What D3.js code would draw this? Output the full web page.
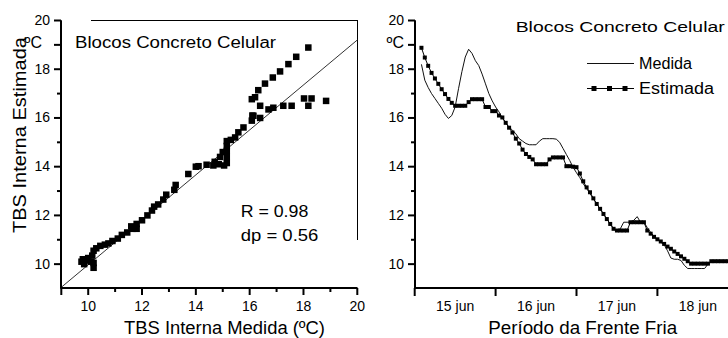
<!DOCTYPE html>
<html>
<head>
<meta charset="utf-8">
<script src="https://cdn.jsdelivr.net/npm/d3@7/dist/d3.min.js"></script>
<style>
body { margin: 0; background: #fff; }
svg { display: block; }
text { font-family: Arial, "Liberation Sans", sans-serif; fill: #000; }
</style>
</head>
<body>
<svg id="chart" width="728" height="338"></svg>
<script>
"use strict";

// grafico de dispersao: TBS interna medida (x) e estimada (y)
const scatterMedida = [9.75, 9.8, 9.85, 9.95, 10.0, 10.1, 10.15, 10.2, 10.2, 10.2, 10.3, 10.45, 10.62, 10.75, 10.9,
    11.1, 11.25, 11.45, 11.6, 11.65, 11.8, 11.8, 12.0, 12.2, 12.37, 12.45, 12.6, 12.79, 12.9, 13.2, 13.25, 13.72,
    14.0, 14.1, 14.4, 14.65, 14.85, 15.05, 15.15, 14.7, 14.9, 15.0, 15.15, 15.15, 15.15, 15.15, 15.3, 15.46, 15.58,
    15.77, 16.08, 16.14, 16.1, 16.39, 16.08, 16.2, 16.32, 16.57, 16.86, 17.13, 17.44, 17.73, 18.18,
    16.39, 16.7, 16.88, 17.25, 17.56, 18.02, 18.3, 18.18, 18.84];
const scatterEstimada = [10.1, 10.2, 10.0, 10.15, 10.25, 10.1, 10.35, 9.85, 10.05, 10.55, 10.65, 10.75, 10.8, 10.85, 10.95,
    11.05, 11.2, 11.3, 11.55, 11.45, 11.65, 11.45, 11.8, 12.0, 12.2, 12.36, 12.45, 12.65, 12.85, 13.05, 13.25, 13.7,
    14.0, 14.02, 14.08, 14.05, 14.1, 14.05, 14.15, 14.2, 14.4, 14.6, 14.4, 14.65, 14.85, 15.05, 15.1, 15.2, 15.41,
    15.61, 15.89, 16.09, 16.1, 16.0, 16.77, 16.85, 17.14, 17.41, 17.66, 17.91, 18.21, 18.51, 18.89,
    16.5, 16.35, 16.42, 16.5, 16.5, 16.8, 16.8, 16.5, 16.7];
const fitLine = [[9, 9.05], [20, 19.2]];
const statLabels = ["R = 0.98", "dp = 0.56"];

// serie horaria; hora 0 = 15 jun 00h
const startHour = 2;
const medida = [18.2, 17.55, 17.25, 17.0, 16.8, 16.6, 16.4, 16.15, 15.98, 16.1, 16.45, 17.2, 17.9, 18.5, 18.82,
    18.65, 18.35, 18.15, 17.8, 17.4, 17.0, 16.7, 16.45, 16.25, 16.0, 15.8, 15.62, 15.5, 15.35, 15.15, 15.05, 14.95,
    14.9, 14.9, 14.9, 15.05, 15.15, 15.15, 15.15, 15.15, 15.13, 15.0, 14.75, 14.5, 14.25, 13.97, 13.75, 13.55, 13.3,
    13.1, 12.9, 12.68, 12.47, 12.27, 12.06, 11.85, 11.65, 11.45, 11.4, 11.45, 11.72, 11.72, 11.72, 11.8, 11.95,
    11.72, 11.72, 11.5, 11.3, 11.15, 11.02, 10.9, 10.8, 10.55, 10.25, 10.2, 10.2, 10.15, 9.95, 9.82, 9.82, 9.82,
    9.82, 9.82, 9.82, 10.0, 10.1, 10.1, 10.1, 10.1, 10.1, 10.1];
const estimada = [18.88, 18.48, 18.14, 17.85, 17.62, 17.4, 17.18, 16.98, 16.78, 16.62, 16.5, 16.5, 16.5, 16.5,
    16.65, 16.77, 16.77, 16.77, 16.77, 16.45, 16.45, 16.28, 16.28, 16.1, 16.02, 15.8, 15.6, 15.4, 15.15, 14.95,
    14.7, 14.52, 14.4, 14.3, 14.1, 14.1, 14.1, 14.1, 14.3, 14.38, 14.38, 14.38, 14.38, 14.02, 14.02, 14.0, 13.98,
    13.72, 13.4, 13.15, 12.95, 12.7, 12.47, 12.27, 12.06, 11.85, 11.65, 11.45, 11.38, 11.38, 11.38, 11.38, 11.72,
    11.72, 11.72, 11.72, 11.72, 11.38, 11.25, 11.12, 11.02, 10.93, 10.83, 10.72, 10.63, 10.52, 10.42, 10.32, 10.22,
    10.12, 10.02, 10.02, 10.02, 10.02, 10.02, 10.02, 10.12, 10.12, 10.12, 10.12, 10.12, 10.12];
const dayLabels = ["15 jun", "16 jun", "17 jun", "18 jun"];

const yMajor = [10, 12, 14, 16, 18, 19, 20];
const yMinor = [11, 13, 15, 17];
const xMajor = [9, 10, 12, 14, 16, 18, 20];
const xMinor = [11, 13, 15, 17, 19];

const svg = d3.select("#chart");

function styleAxis(g, fontSize) {
    g.selectAll("path, line").attr("stroke", "#000").attr("stroke-width", 2);
    g.selectAll("text")
        .attr("fill", "#333")
        .style("font-family", "Arial, 'Liberation Sans', sans-serif")
        .style("font-size", fontSize + "px");
}

function drawYAxis(x, scaleY, celsiusShift) {
    svg.append("g")
        .attr("transform", `translate(${x},0)`)
        .call(d3.axisLeft(scaleY).offset(0).tickValues(yMinor).tickSize(4).tickSizeOuter(0).tickFormat(""))
        .call(g => styleAxis(g, 14));
    let g = svg.append("g")
        .attr("transform", `translate(${x},0)`)
        .call(d3.axisLeft(scaleY).offset(0).tickValues(yMajor).tickSize(7).tickSizeOuter(0).tickPadding(4)
            .tickFormat(d => d == 19 ? "ºC" : d));
    styleAxis(g, 14);
    g.selectAll("g.tick text")
        .filter(d => d == 19)
        .attr("fill", "#000")
        .style("font-size", "16px")
        .attr("transform", `translate(${celsiusShift},-2)`);
}

function addText(x, y, str, size, len, anchor) {
    return svg.append("text")
        .attr("x", x)
        .attr("y", y)
        .attr("text-anchor", anchor || "start")
        .attr("textLength", len)
        .attr("lengthAdjust", "spacingAndGlyphs")
        .style("font-size", size + "px")
        .text(str);
}

// ---------------- grafico da esquerda ----------------
const xL = d3.scaleLinear().domain([9, 20]).range([61.3, 357.3]);
const yL = d3.scaleLinear().domain([9, 20]).range([288.5, 20.5]);

// moldura parcial
svg.append("line").attr("x1", 91).attr("x2", 358).attr("y1", 20.5).attr("y2", 20.5)
    .attr("stroke", "#000").attr("stroke-width", 1);
svg.append("line").attr("x1", 357.5).attr("x2", 357.5).attr("y1", 20).attr("y2", 240)
    .attr("stroke", "#000").attr("stroke-width", 1);

svg.append("line")
    .attr("x1", xL(fitLine[0][0])).attr("y1", yL(fitLine[0][1]))
    .attr("x2", xL(fitLine[1][0])).attr("y2", yL(fitLine[1][1]))
    .attr("stroke", "#333").attr("stroke-width", 1);

svg.append("g")
    .selectAll("rect")
    .data(d3.zip(scatterMedida, scatterEstimada))
    .join("rect")
    .attr("x", d => xL(d[0]) - 3.25)
    .attr("y", d => yL(d[1]) - 3.25)
    .attr("width", 6.5)
    .attr("height", 6.5)
    .attr("fill", "#000");

svg.append("g")
    .attr("transform", "translate(0,288)")
    .call(d3.axisBottom(xL).offset(0).tickValues(xMinor).tickSize(4).tickSizeOuter(0).tickFormat(""))
    .call(g => styleAxis(g, 14));
svg.append("g")
    .attr("transform", "translate(0,288)")
    .call(d3.axisBottom(xL).offset(0).tickValues(xMajor).tickSize(7).tickSizeOuter(0).tickPadding(6)
        .tickFormat(d => d == 9 ? "" : d))
    .call(g => styleAxis(g, 14));
drawYAxis(61, yL, -8);

addText(75, 47.5, "Blocos Concreto Celular", 16, 201);
addText(240.7, 217, statLabels[0], 16.5, 67.6);
addText(240.7, 240.5, statLabels[1], 16.5, 77.7);
addText(224.5, 333.5, "TBS Interna Medida (ºC)", 17.5, 201, "middle");
addText(0, 0, "TBS Interna Estimada", 17.5, 196, "middle")
    .attr("transform", "translate(25.5,135) rotate(-90)");

// ---------------- grafico da direita ----------------
const xR = d3.scaleLinear().domain([0, 96]).range([414.7, 738.3]);
const yR = d3.scaleLinear().domain([9, 20]).range([288.5, 20.5]);
const hours = medida.map((v, i) => startHour + i);

svg.append("path")
    .datum(d3.zip(hours, medida))
    .attr("fill", "none")
    .attr("stroke", "#111")
    .attr("stroke-width", 1)
    .attr("d", d3.line().x(d => xR(d[0])).y(d => yR(d[1])));

svg.append("path")
    .datum(d3.zip(hours, estimada))
    .attr("fill", "none")
    .attr("stroke", "#000")
    .attr("stroke-width", 1)
    .attr("d", d3.line().x(d => xR(d[0])).y(d => yR(d[1])));

svg.append("g")
    .selectAll("rect")
    .data(d3.zip(hours, estimada))
    .join("rect")
    .attr("x", d => xR(d[0]) - 2)
    .attr("y", d => yR(d[1]) - 2)
    .attr("width", 4)
    .attr("height", 4)
    .attr("fill", "#000");

svg.append("g")
    .attr("transform", "translate(0,288)")
    .call(d3.axisBottom(xR).offset(0).tickValues([0, 24, 48, 72, 96]).tickSize(8).tickSizeOuter(0).tickFormat(""))
    .call(g => styleAxis(g, 14));
svg.append("g")
    .attr("transform", "translate(0,288)")
    .call(d3.axisBottom(xR).offset(0).tickValues([12, 36, 60, 84]).tickSize(0).tickPadding(13)
        .tickFormat((d, i) => dayLabels[i]))
    .call(g => styleAxis(g, 14))
    .call(g => g.select(".domain").remove());
drawYAxis(415, yR, 0);

addText(515.7, 32, "Blocos Concreto Celular", 15.5, 209);

// legenda
svg.append("line").attr("x1", 587).attr("x2", 634).attr("y1", 63.5).attr("y2", 63.5)
    .attr("stroke", "#111").attr("stroke-width", 1);
addText(639, 69, "Medida", 16, 53);
svg.append("line").attr("x1", 587).attr("x2", 634).attr("y1", 88.5).attr("y2", 88.5)
    .attr("stroke", "#000").attr("stroke-width", 1);
svg.append("g")
    .selectAll("rect")
    .data([594, 609.5, 625])
    .join("rect")
    .attr("x", d => d - 2.5)
    .attr("y", 86)
    .attr("width", 5)
    .attr("height", 5)
    .attr("fill", "#000");
addText(639, 94, "Estimada", 16, 75);

addText(582.7, 333.5, "Período da Frente Fria", 17.5, 189, "middle");
</script>
</body>
</html>
